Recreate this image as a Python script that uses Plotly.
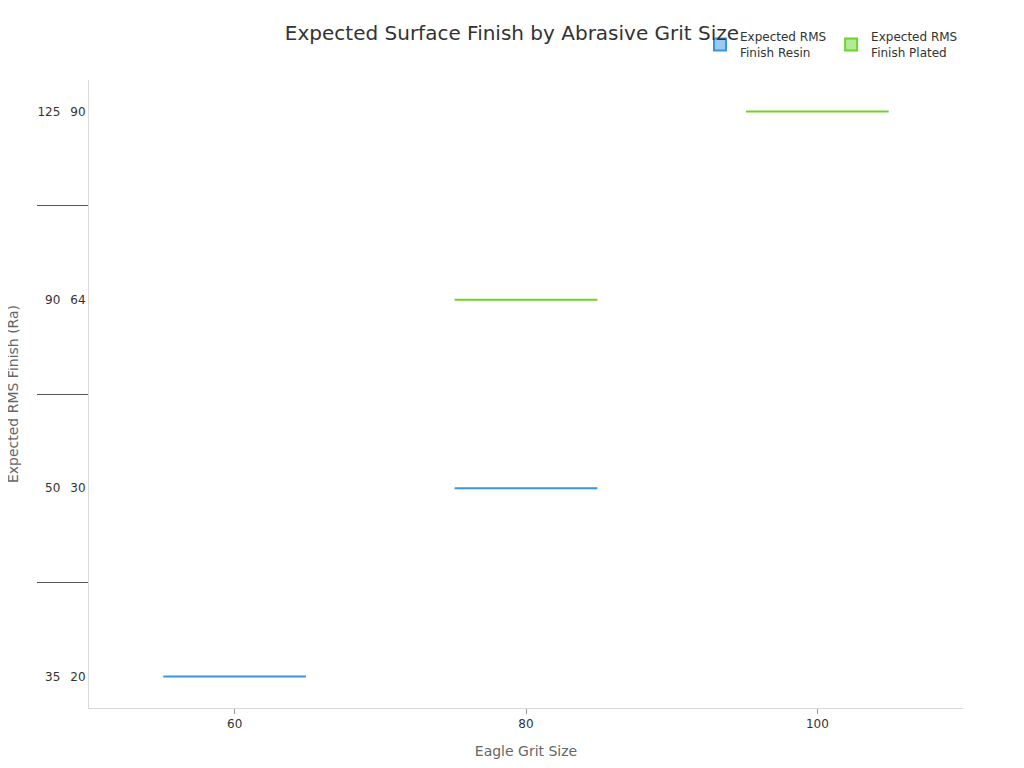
import plotly.graph_objects as go

grit_resin = ["60", "80"]
rms_resin_outer = ["35", "50"]
rms_resin_inner = ["20", "30"]

grit_plated = ["80", "100"]
rms_plated_outer = ["90", "125"]
rms_plated_inner = ["64", "90"]

blue = "#3a95e0"
green = "#6cd42c"

fig = go.Figure()
fig.add_trace(go.Box(
    name="Expected RMS<br>Finish Resin",
    x=grit_resin,
    y=[rms_resin_outer, rms_resin_inner],
    line=dict(color=blue, width=2),
    fillcolor="rgba(58,149,224,0.5)",
    boxpoints=False,
))
fig.add_trace(go.Box(
    name="Expected RMS<br>Finish Plated",
    x=grit_plated,
    y=[rms_plated_outer, rms_plated_inner],
    line=dict(color=green, width=2),
    fillcolor="rgba(108,212,44,0.5)",
    boxpoints=False,
))

fig.update_layout(
    width=1008, height=752,
    paper_bgcolor="white", plot_bgcolor="white",
    font=dict(family="DejaVu Sans", size=12, color="#333"),
    title=dict(text="Expected Surface Finish by Abrasive Grit Size",
               x=0.5, xanchor="center", y=0.967, yanchor="middle",
               font=dict(size=20, color="#333")),
    margin=dict(l=81, r=53, t=72, b=52, autoexpand=False),
    boxmode="overlay",
    showlegend=True,
    legend=dict(orientation="h", x=1.0, xanchor="right", y=1.02, yanchor="bottom",
                font=dict(size=12, color="#333"), bgcolor="rgba(0,0,0,0)"),
    xaxis=dict(type="category", automargin=False,
               title=dict(text="Eagle Grit Size", font=dict(size=14, color="#666")),
               showline=True, linecolor="#d9d9d9", linewidth=1,
               ticks="outside", ticklen=5, tickcolor="#999",
               showgrid=False, zeroline=False,
               tickfont=dict(size=12, color="#333")),
    yaxis=dict(type="multicategory", automargin=False,
               title=dict(text="Expected RMS Finish (Ra)", font=dict(size=14, color="#666")),
               showline=True, linecolor="#d9d9d9", linewidth=1,
               showgrid=False, zeroline=False, ticks="",
               showdividers=True, dividercolor="#555", dividerwidth=1,
               tickfont=dict(size=12, color="#333")),
)

fig.write_html("out.html")
